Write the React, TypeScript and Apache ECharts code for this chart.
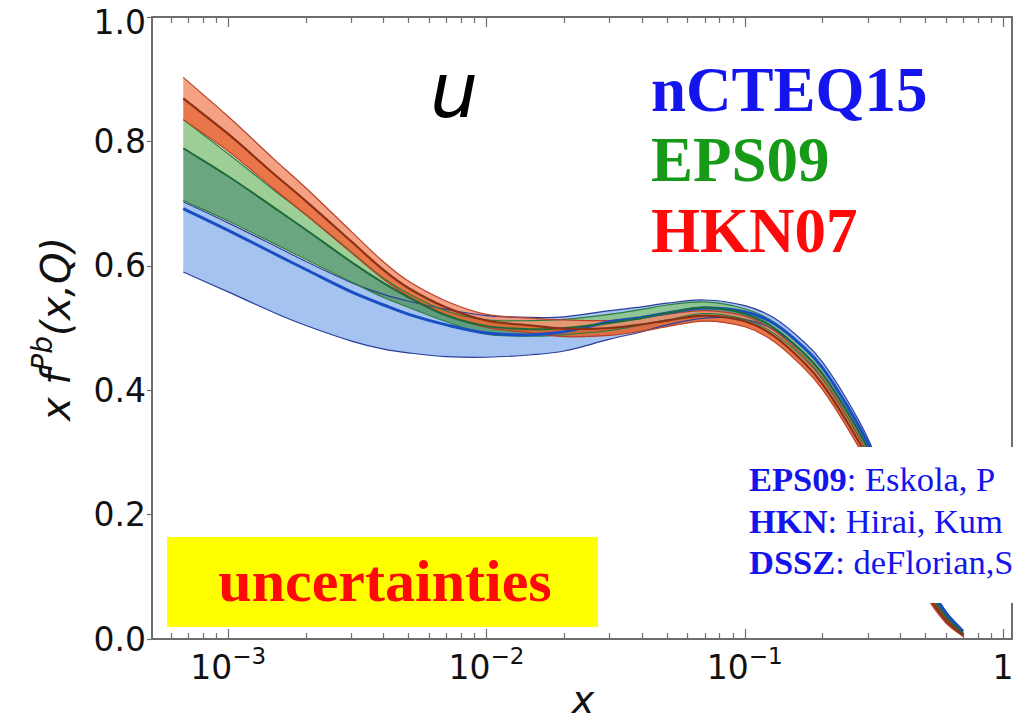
import React, { useEffect, useRef } from "react";
import * as echarts from "echarts";

// x values (log axis)
const xValues = [6.7e-4, 1e-3, 1.5e-3, 2e-3, 3e-3, 4e-3, 5e-3, 7e-3, 1e-2, 1.5e-2, 2e-2, 3e-2, 4e-2, 5e-2, 7e-2, 0.1, 0.13, 0.17, 0.2, 0.25, 0.3, 0.4, 0.5, 0.6, 0.7];

// nCTEQ15 band
const ncteqTop = [0.703, 0.669, 0.633, 0.607, 0.573, 0.554, 0.543, 0.53, 0.52, 0.517, 0.518, 0.528, 0.534, 0.54, 0.545, 0.536, 0.516, 0.477, 0.445, 0.383, 0.322, 0.198, 0.1, 0.045, 0.014];
const ncteqCentral = [0.692, 0.657, 0.62, 0.594, 0.558, 0.537, 0.522, 0.505, 0.492, 0.489, 0.494, 0.51, 0.517, 0.524, 0.532, 0.526, 0.507, 0.468, 0.436, 0.374, 0.314, 0.192, 0.095, 0.042, 0.012];
const ncteqBottom = [0.59, 0.558, 0.525, 0.504, 0.479, 0.466, 0.46, 0.454, 0.453, 0.457, 0.463, 0.482, 0.494, 0.505, 0.516, 0.514, 0.497, 0.459, 0.427, 0.366, 0.306, 0.186, 0.09, 0.038, 0.01];

// EPS09 band
const eps09Top = [0.835, 0.78, 0.722, 0.682, 0.622, 0.58, 0.555, 0.527, 0.513, 0.512, 0.514, 0.522, 0.53, 0.537, 0.542, 0.531, 0.509, 0.468, 0.435, 0.373, 0.313, 0.19, 0.092, 0.04, 0.011];
const eps09Central = [0.789, 0.744, 0.694, 0.658, 0.606, 0.572, 0.549, 0.52, 0.503, 0.498, 0.5, 0.508, 0.516, 0.524, 0.533, 0.523, 0.5, 0.459, 0.426, 0.364, 0.305, 0.184, 0.087, 0.037, 0.009];
const eps09Bottom = [0.705, 0.672, 0.636, 0.61, 0.574, 0.549, 0.533, 0.51, 0.49, 0.487, 0.489, 0.496, 0.505, 0.513, 0.523, 0.514, 0.491, 0.45, 0.417, 0.355, 0.296, 0.177, 0.082, 0.033, 0.007];

// HKN07 band
const hknTop = [0.903, 0.84, 0.772, 0.725, 0.655, 0.606, 0.575, 0.543, 0.522, 0.516, 0.513, 0.512, 0.517, 0.522, 0.528, 0.519, 0.496, 0.453, 0.419, 0.357, 0.297, 0.176, 0.083, 0.034, 0.008];
const hknCentral = [0.869, 0.812, 0.748, 0.704, 0.639, 0.593, 0.564, 0.533, 0.512, 0.504, 0.499, 0.5, 0.506, 0.512, 0.52, 0.511, 0.487, 0.444, 0.41, 0.348, 0.289, 0.17, 0.078, 0.03, 0.006];
const hknBottom = [0.835, 0.784, 0.724, 0.682, 0.621, 0.578, 0.551, 0.521, 0.501, 0.492, 0.486, 0.488, 0.495, 0.502, 0.511, 0.502, 0.478, 0.435, 0.401, 0.339, 0.28, 0.163, 0.072, 0.026, 0.004];

// axis ticks
const xMajorTicks = [0.001, 0.01, 0.1, 1];
const xMinorTicks = [0.0006, 0.0007, 0.0008, 0.0009, 0.002, 0.003, 0.004, 0.005, 0.006, 0.007, 0.008, 0.009, 0.02, 0.03, 0.04, 0.05, 0.06, 0.07, 0.08, 0.09, 0.2, 0.3, 0.4, 0.5, 0.6, 0.7, 0.8, 0.9];
const xMin = 5.07e-4;
const xMax = 1.083;
const yMin = 0;
const yMax = 1.0;
const yInterval = 0.2;

const setLabels = ["nCTEQ15", "EPS09", "HKN07"];
const citeNames = ["EPS09", "HKN", "DSSZ"];
const citeAuthors = [": Eskola, P", ": Hirai, Kum", ": deFlorian,S"];

const SMOOTH = 0.35;
const AXIS_COLOR = "#6e6e6e";

function smoothPath(p: number[][], move: boolean) {
  const n = p.length;
  const cps = p.map((pt, i) => {
    const prev = p[Math.max(0, i - 1)];
    const next = p[Math.min(n - 1, i + 1)];
    const vx = next[0] - prev[0];
    const vy = next[1] - prev[1];
    const l0 = Math.hypot(pt[0] - prev[0], pt[1] - prev[1]);
    const l1 = Math.hypot(next[0] - pt[0], next[1] - pt[1]);
    const r = l0 + l1 > 0 ? l1 / (l0 + l1) : 0.5;
    return [
      [pt[0] - vx * SMOOTH * (1 - r), pt[1] - vy * SMOOTH * (1 - r)],
      [pt[0] + vx * SMOOTH * r, pt[1] + vy * SMOOTH * r],
    ];
  });
  let d = (move ? "M" : "L") + p[0][0].toFixed(2) + " " + p[0][1].toFixed(2);
  for (let i = 1; i < n; i++) {
    const c1 = cps[i - 1][1];
    const c2 = cps[i][0];
    d += " C" + c1[0].toFixed(2) + " " + c1[1].toFixed(2) + " " + c2[0].toFixed(2) + " " + c2[1].toFixed(2) + " " + p[i][0].toFixed(2) + " " + p[i][1].toFixed(2);
  }
  return d;
}

function bandSeries(lo: number[], hi: number[], color: string, opacity: number) {
  return {
    type: "custom",
    coordinateSystem: "cartesian2d",
    xAxisIndex: 0,
    yAxisIndex: 0,
    silent: true,
    z: 2,
    data: xValues.map((x, i) => [x, lo[i], hi[i]]),
    encode: { x: 0, y: [1, 2] },
    renderItem: (params: any, api: any) => {
      if (params.dataIndexInside !== 0) return null;
      const n = params.dataInsideLength;
      const up: number[][] = [];
      const dn: number[][] = [];
      for (let i = 0; i < n; i++) {
        up.push(api.coord([api.value(0, i), api.value(2, i)]));
        dn.push(api.coord([api.value(0, i), api.value(1, i)]));
      }
      dn.reverse();
      const d = smoothPath(up, true) + " " + smoothPath(dn, false) + " Z";
      return { type: "path", shape: { pathData: d }, style: { fill: color, opacity, stroke: "none" } };
    },
  };
}

function lineSeries(ys: number[], color: string, width: number) {
  return {
    type: "custom",
    coordinateSystem: "cartesian2d",
    xAxisIndex: 0,
    yAxisIndex: 0,
    silent: true,
    z: 3,
    data: xValues.map((x, i) => [x, ys[i]]),
    encode: { x: 0, y: 1 },
    renderItem: (params: any, api: any) => {
      if (params.dataIndexInside !== 0) return null;
      const n = params.dataInsideLength;
      const p: number[][] = [];
      for (let i = 0; i < n; i++) p.push(api.coord([api.value(0, i), api.value(1, i)]));
      return { type: "path", shape: { pathData: smoothPath(p, true) }, style: { fill: "none", stroke: color, lineWidth: width } };
    },
  };
}

const xLabelFormatter = (v: number) => {
  if (v > 0.5) return "{b|1}";
  const e = Math.round(Math.log10(v));
  return "{b|10}{s|\u2212" + String(-e) + "}";
};

const yLabelFormatter = (v: number) => (v >= yMax - 1e-9 ? "{t|" + v.toFixed(1) + "}" : v.toFixed(1));

function makeXAxis(position: "top" | "bottom", ticks: number[], len: number, labels: boolean) {
  return {
    type: "log",
    logBase: 10,
    min: xMin,
    max: xMax,
    position,
    gridIndex: 0,
    axisLine: { show: true, onZero: false, lineStyle: { color: AXIS_COLOR, width: 2 } },
    axisTick: { show: true, inside: true, length: len, customValues: ticks, lineStyle: { color: AXIS_COLOR, width: 1.2 } },
    axisLabel: labels
      ? {
          show: true,
          customValues: ticks,
          margin: 5,
          formatter: xLabelFormatter,
          rich: {
            b: { fontSize: 33, fontFamily: "DejaVu Sans", color: "#111", lineHeight: 46 },
            s: { fontSize: 23, fontFamily: "DejaVu Sans", color: "#111", lineHeight: 20, verticalAlign: "top" },
          },
        }
      : { show: false },
    splitLine: { show: false },
    minorTick: { show: false },
  };
}

export default function App() {
  const ref = useRef<HTMLDivElement>(null);
  useEffect(() => {
    if (!ref.current) return;
    const chart = echarts.init(ref.current, undefined, { renderer: "svg" });
    const series: any[] = [
      bandSeries(ncteqBottom, ncteqTop, "#9abdef", 0.9),
      bandSeries(eps09Bottom, eps09Central, "#52976a", 0.85),
      bandSeries(eps09Central, eps09Top, "#8cc683", 0.85),
      bandSeries(hknBottom, hknCentral, "#e45e28", 0.85),
      bandSeries(hknCentral, hknTop, "#f3916e", 0.85),
      lineSeries(ncteqTop, "#2a3f9a", 1.2),
      lineSeries(ncteqBottom, "#2a3f9a", 1.2),
      lineSeries(eps09Top, "#2e7d3c", 1.2),
      lineSeries(eps09Bottom, "#2e7d3c", 1.2),
      lineSeries(hknTop, "#b8402a", 1.2),
      lineSeries(hknBottom, "#b8402a", 1.2),
      lineSeries(ncteqCentral, "#1a4ec4", 3),
      lineSeries(eps09Central, "#1d6b3c", 2),
      lineSeries(hknCentral, "#8a3016", 2.2),
    ];
    const serif = '"Liberation Serif", "Times New Roman", serif';
    chart.setOption({
      animation: false,
      backgroundColor: "#ffffff",
      grid: { left: 152, right: 5, top: 17, bottom: 83, containLabel: false, outerBoundsMode: "none" },
      xAxis: [
        makeXAxis("bottom", xMajorTicks, 10, true),
        makeXAxis("bottom", xMinorTicks, 6, false),
        makeXAxis("top", xMajorTicks, 10, false),
        makeXAxis("top", xMinorTicks, 6, false),
      ],
      yAxis: [
        {
          type: "value",
          min: yMin,
          max: yMax,
          interval: yInterval,
          position: "left",
          axisLine: { show: true, onZero: false, lineStyle: { color: AXIS_COLOR, width: 2 } },
          axisTick: { show: true, inside: false, length: 5, lineStyle: { color: AXIS_COLOR, width: 1.2 } },
          axisLabel: {
            margin: 6,
            fontSize: 33,
            fontFamily: "DejaVu Sans",
            color: "#111",
            formatter: yLabelFormatter,
            rich: { t: { fontSize: 33, fontFamily: "DejaVu Sans", color: "#111", padding: [10, 0, 0, 0] } },
          },
          splitLine: { show: false },
        },
        {
          type: "value",
          min: yMin,
          max: yMax,
          interval: yInterval,
          position: "right",
          axisLine: { show: true, onZero: false, lineStyle: { color: AXIS_COLOR, width: 2 } },
          axisTick: { show: false },
          axisLabel: { show: false },
          splitLine: { show: false },
        },
      ],
      series,
      graphic: {
        elements: [
          { type: "text", z: 100, x: 430, y: 90, style: { text: "u", fontSize: 76, fontStyle: "italic", fontFamily: "DejaVu Sans", fill: "#000", align: "left", verticalAlign: "middle" } },
          { type: "text", z: 100, x: 651, y: 90, style: { text: setLabels[0], fontSize: 63, fontWeight: "bold", fontFamily: serif, fill: "#1414ee", align: "left", verticalAlign: "middle" } },
          { type: "text", z: 100, x: 651, y: 160, style: { text: setLabels[1], fontSize: 63, fontWeight: "bold", fontFamily: serif, fill: "#179a17", align: "left", verticalAlign: "middle" } },
          { type: "text", z: 100, x: 651, y: 231, style: { text: setLabels[2], fontSize: 63, fontWeight: "bold", fontFamily: serif, fill: "#ff0a0a", align: "left", verticalAlign: "middle" } },
          { type: "rect", z: 100, shape: { x: 167, y: 537, width: 431, height: 90 }, style: { fill: "#ffff00" } },
          { type: "text", z: 101, x: 385, y: 581, style: { text: "uncertainties", fontSize: 60, fontWeight: "bold", fontFamily: serif, fill: "#ff0a0a", align: "center", verticalAlign: "middle" } },
          { type: "rect", z: 100, shape: { x: 745, y: 447, width: 272, height: 156 }, style: { fill: "#ffffff" } },
          ...citeNames.map((n, i) => ({
            type: "text",
            z: 101,
            x: 749,
            y: 479 + i * 41.5,
            style: {
              text: "{b|" + n + "}{n|" + citeAuthors[i] + "}",
              align: "left",
              verticalAlign: "middle",
              rich: {
                b: { fontSize: 34.5, fontWeight: "bold", fontFamily: serif, fill: "#1414ee" },
                n: { fontSize: 34.5, fontFamily: serif, fill: "#1414ee" },
              },
            },
          })),
          {
            type: "text",
            z: 100,
            x: 56,
            y: 329,
            rotation: Math.PI / 2,
            style: {
              text: "{m|x }{m|f}{s|Pb}{m|(x,Q)}",
              align: "center",
              verticalAlign: "middle",
              rich: {
                m: { fontSize: 40, fontStyle: "italic", fontFamily: "DejaVu Sans", fill: "#111", lineHeight: 56 },
                s: { fontSize: 28, fontStyle: "italic", fontFamily: "DejaVu Sans", fill: "#111", lineHeight: 28, verticalAlign: "top" },
              },
            },
          },
          { type: "text", z: 100, x: 583, y: 700, style: { text: "x", fontSize: 38, fontStyle: "italic", fontFamily: "DejaVu Sans", fill: "#111", align: "center", verticalAlign: "middle" } },
        ],
      },
    });
    return () => chart.dispose();
  }, []);
  return <div ref={ref} style={{ position: "fixed", left: 0, top: 0, width: 1017, height: 722, background: "#fff" }} />;
}
